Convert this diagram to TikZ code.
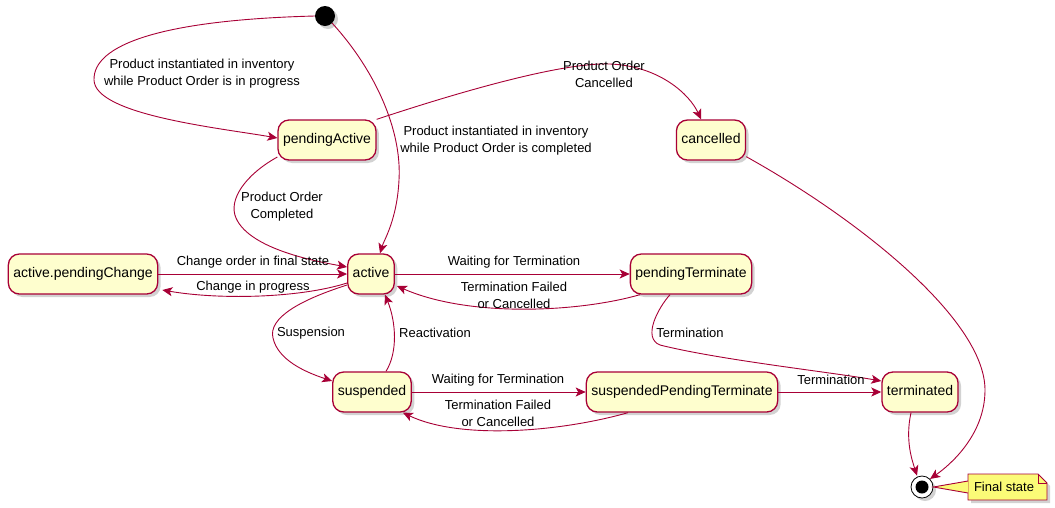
\documentclass[tikz,border=0pt]{standalone}
\usepackage{fontspec}
\setmainfont{Liberation Sans}
\usetikzlibrary{arrows.meta,shadows}
\definecolor{umlred}{HTML}{A80036}
\definecolor{umlfill}{HTML}{FEFECE}
\definecolor{notefill}{HTML}{FBFB77}
\begin{document}
\begin{tikzpicture}[x=1pt,y=-1pt,
  shd/.style={drop shadow={shadow xshift=3pt,shadow yshift=-3pt,opacity=0.35,fill=gray}},
  state/.style={draw=umlred,fill=umlfill,rounded corners=11pt,line width=1.3pt,
    minimum height=40pt,inner xsep=5pt,text height=10pt,text depth=3pt,
    font=\fontsize{14}{16}\selectfont,shd},
  lbl/.style={font=\fontsize{13}{17}\selectfont,align=center,inner sep=0pt},
  arr/.style={draw=umlred,line width=0.9pt,-{Stealth[inset=2.5pt,length=10pt,width=9pt]}},
  conn/.style={draw=umlred,line width=0.9pt}]
\useasboundingbox (0,0) rectangle (1055,507);
\fill[white] (0,0) rectangle (1055,507);

% states
\node[circle,fill=black,minimum size=20pt,inner sep=0pt,shd] (init) at (325,16) {};
\node[state] (pa) at (327,140) {pendingActive};
\node[state] (can) at (711,140) {cancelled};
\node[state] (apc) at (83,274) {active.pendingChange};
\node[state] (act) at (371,274) {active};
\node[state] (pt) at (691,274) {pendingTerminate};
\node[state] (sus) at (372,392) {suspended};
\node[state] (spt) at (682,392) {suspendedPendingTerminate};
\node[state] (term) at (920,392) {terminated};
\node[circle,draw=black,fill=white,line width=0.8pt,minimum size=22pt,inner sep=0pt,shd] (fin) at (922,487) {};
\fill[black] (fin.center) circle (6.5pt);

% note
\path[draw=umlred,fill=notefill,line width=0.8pt,shd] (968,474) -- (1038,474) -- (1047,483) -- (1047,500) -- (968,500) -- cycle;
\draw[umlred,line width=0.8pt] (1038,474) -- (1038,483) -- (1047,483);
\node[lbl] (note) at (1004,487) {Final state};
\coordinate (na) at (968,481);
\coordinate (nb) at (968,493);
\path[fill=notefill] (fin.east) -- (na) -- (nb) -- cycle;
\draw[conn] (na) -- (fin.east) -- (nb);

% connectors
\draw[arr] (init.west) .. controls (160,20) and (93,45) .. (94,80)
  .. controls (95,115) and (220,128) .. ([yshift=2pt]pa.west);
\node[lbl] (l1) at (202,74) {Product instantiated in inventory\\while Product Order is in progress};

\draw[arr] (init.south east) .. controls (375,70) and (402,130) .. (399,180)
  .. controls (397,220) and (384,240) .. ([xshift=9pt]act.north);
\node[lbl] (l2) at (496,141) {Product instantiated in inventory\\while Product Order is completed};

\draw[arr] (pa.north east) .. controls (450,95) and (560,62) .. (610,64)
  .. controls (660,66) and (690,95) .. ([xshift=-10pt]can.north);
\node[lbl] (l3) at (604,74) {Product Order\\Cancelled};

\draw[arr] ([yshift=-17pt]pa.west) .. controls (245,175) and (228,200) .. (236,218)
  .. controls (250,250) and (320,262) .. ([yshift=7pt]act.west);
\node[lbl] (l4) at (282,207) {Product Order\\Completed};

\draw[arr] (apc.east) -- (act.west);
\node[lbl] (l5) at (253,262) {Change order in final state};

\draw[arr] ([yshift=-9pt]act.west) .. controls (300,298) and (220,300) .. ([xshift=4pt,yshift=-16pt]apc.east);
\node[lbl] (l6) at (253,287) {Change in progress};

\draw[arr] (act.east) -- (pt.west);
\node[lbl] (l7) at (514,262) {Waiting for Termination};

\draw[arr] ([xshift=-51pt]pt.south) .. controls (580,312) and (470,318) .. ([xshift=2pt,yshift=-12pt]act.east);
\node[lbl] (l8) at (514,295) {Termination Failed\\or Cancelled};

\draw[arr] ([yshift=-11pt]act.west) .. controls (300,300) and (268,318) .. (273,338)
  .. controls (278,360) and (305,372) .. ([yshift=11pt]sus.west);
\node[lbl] (l9) at (311,333) {Suspension};

\draw[arr] ([xshift=14pt]sus.north) .. controls (398,352) and (396,322) .. ([xshift=14pt]act.south);
\node[lbl] (l10) at (435,333) {Reactivation};

\draw[arr] (sus.east) -- (spt.west);
\node[lbl] (l11) at (498,380) {Waiting for Termination};

\draw[arr] ([xshift=-54pt]spt.south) .. controls (560,432) and (460,440) .. ([xshift=-9pt]sus.south east);
\node[lbl] (l12) at (498,413) {Termination Failed\\or Cancelled};

\draw[arr] ([xshift=-21pt]pt.south) .. controls (658,308) and (642,338) .. (660,345)
  .. controls (720,360) and (830,372) .. ([yshift=11pt]term.west);
\node[lbl] (l13) at (690,333) {Termination};

\draw[arr] (spt.east) -- (term.west);
\node[lbl] (l14) at (831,380) {Termination};

\draw[arr] ([yshift=4pt]can.south east) .. controls (860,220) and (985,320) .. (985,390)
  .. controls (985,435) and (950,465) .. (fin.north east);
\draw[arr] ([xshift=-9pt]term.south) .. controls (905,440) and (912,460) .. ([xshift=-5pt]fin.north);
\end{tikzpicture}
\end{document}
